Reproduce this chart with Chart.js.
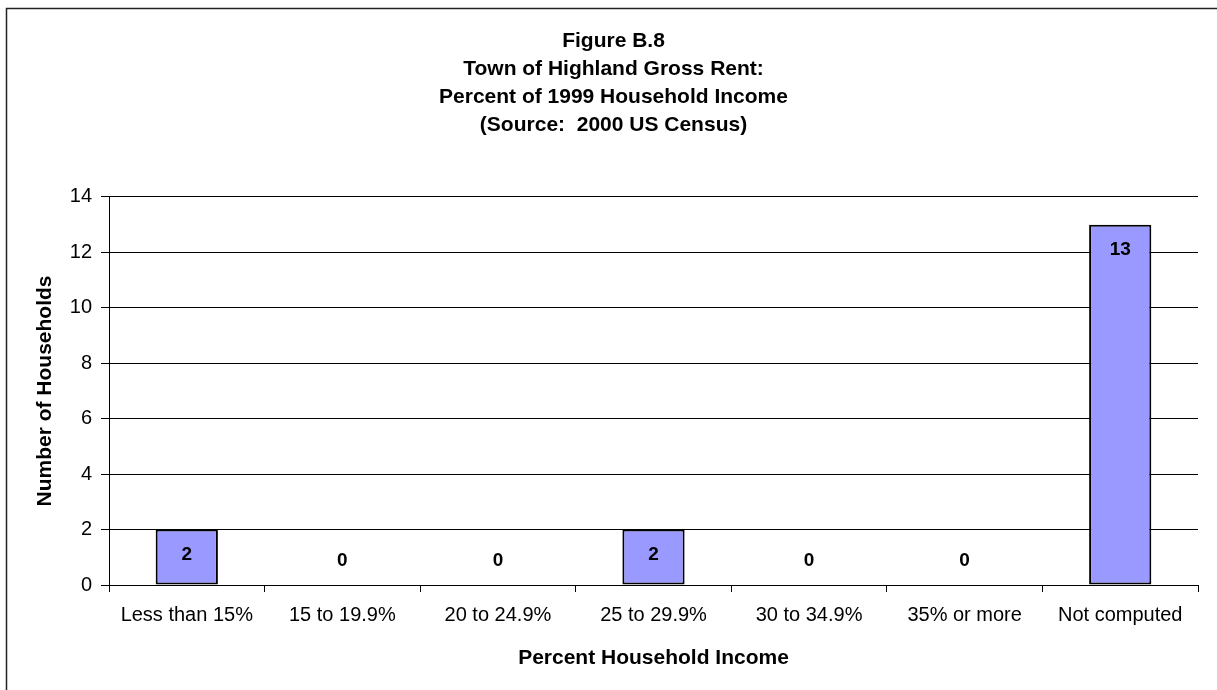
<!DOCTYPE html>
<html>
<head>
<meta charset="utf-8">
<script src="https://cdn.jsdelivr.net/npm/chart.js@4.4.0/dist/chart.umd.min.js"></script>
<style>
  html, body { margin: 0; padding: 0; background: #fff; }
  #wrap { width: 1217px; height: 690px; position: relative; }
</style>
</head>
<body>
<div id="wrap"><canvas id="c" width="1217" height="690"></canvas></div>
<script>
const titleLines = ["Figure B.8", "Town of Highland Gross Rent:", "Percent of 1999 Household Income", "(Source:  2000 US Census)"];
const categories = ["Less than 15%", "15 to 19.9%", "20 to 24.9%", "25 to 29.9%", "30 to 34.9%", "35% or more", "Not computed"];
const households = [2, 0, 0, 2, 0, 0, 13];
const yTitle = "Number of Households";
const xTitle = "Percent Household Income";
const yMin = 0, yMax = 14, yStep = 2;

const FONT = "'Liberation Sans', Arial, Helvetica, sans-serif";

const frame = {
  id: 'frame',
  beforeDraw(chart) {
    const ctx = chart.ctx;
    ctx.save();
    ctx.fillStyle = '#fff';
    ctx.fillRect(0, 0, chart.width, chart.height);
    ctx.strokeStyle = '#222';
    ctx.lineWidth = 1.5;
    ctx.beginPath();
    ctx.moveTo(6.5, chart.height + 2);
    ctx.lineTo(6.5, 8.5);
    ctx.lineTo(chart.width + 2, 8.5);
    ctx.stroke();
    ctx.restore();
  }
};

const valueLabels = {
  id: 'valueLabels',
  afterDatasetsDraw(chart) {
    const ctx = chart.ctx;
    const meta = chart.getDatasetMeta(0);
    const yScale = chart.scales.y;
    const zero = yScale.getPixelForValue(0);
    ctx.save();
    ctx.font = "bold 19px " + FONT;
    ctx.fillStyle = '#000';
    ctx.textAlign = 'center';
    ctx.textBaseline = 'middle';
    meta.data.forEach((bar, i) => {
      const v = chart.data.datasets[0].data[i];
      const y = v > 0 ? bar.y + 25 : zero - 24;
      ctx.fillText(String(v), bar.x, y);
    });
    ctx.restore();
  }
};

new Chart(document.getElementById('c'), {
  type: 'bar',
  data: {
    labels: categories,
    datasets: [{
      data: households,
      backgroundColor: '#9999FF',
      borderColor: '#000',
      borderWidth: 2,
      borderSkipped: false,
      barPercentage: 0.4,
      categoryPercentage: 1.0
    }]
  },
  options: {
    responsive: false,
    animation: false,
    devicePixelRatio: 1,
    layout: { padding: { left: 10, right: 0, top: 0, bottom: 0 } },
    plugins: {
      legend: { display: false },
      tooltip: { enabled: false },
      title: {
        display: true,
        text: titleLines,
        color: '#000',
        font: { family: FONT, size: 21, weight: 'bold', lineHeight: 1.333 },
        padding: { top: 27, bottom: 58 }
      }
    },
    scales: {
      x: {
        grid: { offset: true, drawOnChartArea: false, drawTicks: true, tickLength: 7, color: '#000', lineWidth: 1 },
        border: { display: true, color: '#000', width: 1 },
        ticks: { color: '#000', font: { family: FONT, size: 20 }, padding: 11, maxRotation: 0, autoSkip: false },
        title: { display: true, text: xTitle, color: '#000', font: { family: FONT, size: 21, weight: 'bold', lineHeight: 1.2 }, padding: { top: 10, bottom: 19 } },
        afterFit(s) { s.height = 105; }
      },
      y: {
        min: yMin, max: yMax,
        grid: { color: '#000', lineWidth: 1, tickLength: 8, drawTicks: true },
        border: { display: true, color: '#000', width: 1 },
        ticks: { stepSize: yStep, color: '#000', font: { family: FONT, size: 20 }, padding: 9 },
        title: { display: true, text: yTitle, color: '#000', font: { family: FONT, size: 21, weight: 'bold', lineHeight: 1.2 }, padding: { top: 23, bottom: 10 } },
        afterFit(s) { s.width = 99; }
      },
      yRight: {
        position: 'right',
        display: true,
        grid: { display: false, drawTicks: false },
        border: { display: false },
        ticks: { display: false },
        afterFit(s) { s.width = 19; }
      }
    }
  },
  plugins: [frame, valueLabels]
});
</script>
</body>
</html>
